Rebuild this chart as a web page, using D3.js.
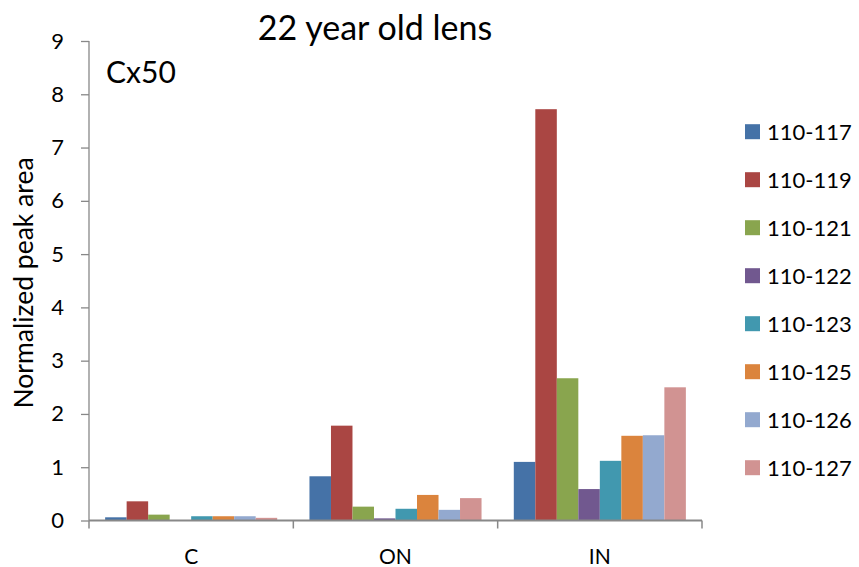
<!DOCTYPE html>
<html><head><meta charset="utf-8">
<script src="https://cdn.jsdelivr.net/npm/d3@7"></script>
<style>body{margin:0;background:#fff}svg{font-family:Lato,"Open Sans",sans-serif}</style>
</head><body><svg id="c" width="859" height="567"></svg>
<script>
const categories = ["C", "ON", "IN"];
const seriesNames = ["110-117","110-119","110-121","110-122","110-123","110-125","110-126","110-127"];
const s110_117 = [0.06, 0.83, 1.10];
const s110_119 = [0.36, 1.78, 7.72];
const s110_121 = [0.11, 0.26, 2.67];
const s110_122 = [0.00, 0.04, 0.59];
const s110_123 = [0.08, 0.22, 1.12];
const s110_125 = [0.08, 0.48, 1.59];
const s110_126 = [0.08, 0.20, 1.60];
const s110_127 = [0.05, 0.42, 2.50];
const seriesValues = [s110_117,s110_119,s110_121,s110_122,s110_123,s110_125,s110_126,s110_127];
const yTicks = [0,1,2,3,4,5,6,7,8,9];
const colors = ["#4572A7","#AA4643","#89A54E","#71588F","#4198AF","#DB843D","#93A9CF","#D19392"];

const svg = d3.select("#c");
const mLeft = 89, mRight = 702, mTop = 41, mBottom = 520.5;
const x0 = d3.scaleBand().domain(categories).range([mLeft, mRight]).paddingInner(0).paddingOuter(0);
// Excel gap width 150%: outer padding of 0.75 bar on each side
const x1 = d3.scaleBand().domain(seriesNames).range([0, x0.bandwidth()]).paddingInner(0).paddingOuter(0.75);
const y = d3.scaleLinear().domain([0, 9]).range([mBottom, mTop]);

const g = svg.append("g");
categories.forEach((cat, ci) => {
  seriesNames.forEach((s, si) => {
    const v = seriesValues[si][ci];
    g.append("rect")
      .attr("x", x0(cat) + x1(s))
      .attr("y", y(v))
      .attr("width", x1.bandwidth())
      .attr("height", y(0) - y(v))
      .attr("fill", colors[si]);
  });
});

// Y axis
const yAxis = d3.axisLeft(y).tickValues(yTicks).tickSize(8).tickPadding(17).tickFormat(d3.format("d"));
const ya = svg.append("g").attr("transform", `translate(${mLeft},0)`).call(yAxis);
ya.attr("font-family", null).attr("font-size", null);
ya.select(".domain").attr("stroke", "#888").attr("stroke-width", 1.3).attr("d", `M0,${mTop}V${mBottom}`);
ya.selectAll(".tick line").attr("stroke", "#888").attr("stroke-width", 1.3);
ya.selectAll(".tick text").attr("font-size", 22).attr("fill", "#000");

// X axis
const xa = svg.append("g").attr("transform", `translate(0,${mBottom})`);
xa.append("line").attr("x1", mLeft).attr("x2", mRight).attr("stroke", "#888").attr("stroke-width", 2);
const bounds = [mLeft].concat(categories.map(c => x0(c) + x0.bandwidth()));
xa.selectAll(".xt").data(bounds).enter().append("line")
  .attr("x1", d => d).attr("x2", d => d).attr("y1", 0).attr("y2", 8)
  .attr("stroke", "#888").attr("stroke-width", 1.5);
xa.selectAll(".xl").data(categories).enter().append("text")
  .attr("x", d => x0(d) + x0.bandwidth() / 2).attr("y", 43)
  .attr("text-anchor", "middle").attr("font-size", 21).text(d => d);

// Titles
svg.append("text").attr("x", 375).attr("y", 40).attr("text-anchor", "middle").attr("font-size", 34).text("22 year old lens");
svg.append("text").attr("x", 106).attr("y", 83).attr("font-size", 30).text("Cx50");
svg.append("text").attr("transform", "translate(33,283) rotate(-90)").attr("text-anchor", "middle").attr("font-size", 26.5).text("Normalized peak area");

// Legend
const lg = svg.append("g");
seriesNames.forEach((s, i) => {
  const cy = 131.7 + i * 48;
  lg.append("rect").attr("x", 745).attr("y", cy - 7.5).attr("width", 15).attr("height", 15).attr("fill", colors[i]);
  lg.append("text").attr("x", 767).attr("y", cy + 8).attr("font-size", 22).text(s);
});
</script></body></html>
